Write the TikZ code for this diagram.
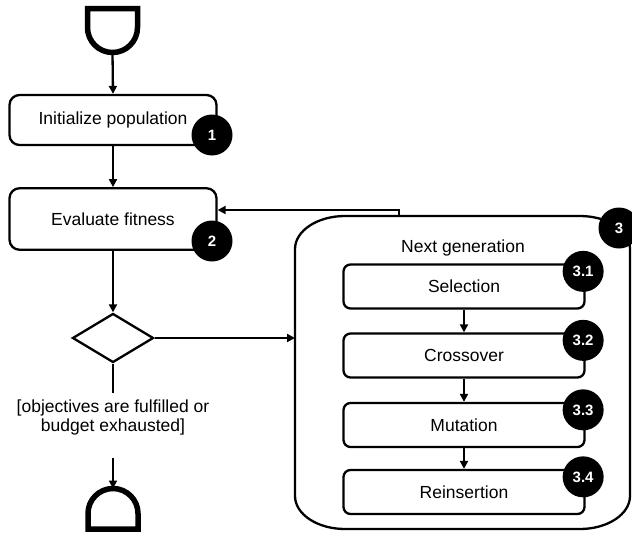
\documentclass[tikz,border=0pt]{standalone}
\usepackage{fontspec}
\setmainfont{Liberation Sans}
\usetikzlibrary{arrows.meta,shapes.geometric,calc}
\begin{document}
\begin{tikzpicture}[x=1pt,y=1pt,
  txt/.style={font=\fontsize{17.5}{19.5}\selectfont},
  box/.style={draw,line width=2.3pt,rounded corners=10pt,minimum width=207pt,inner sep=0pt,txt},
  ibox/.style={draw,line width=2.3pt,rounded corners=7pt,minimum width=241pt,minimum height=44pt,inner sep=0pt,txt},
  badge/.style={circle,fill=black,text=white,minimum size=41pt,inner sep=0pt,font=\fontsize{15}{16}\selectfont\bfseries},
  conn/.style={line width=2.3pt,-{Triangle[length=8pt,width=8pt]}},
  plain/.style={line width=2.3pt},
  term/.style={line width=5.5pt},
  holder/.style={inner sep=0pt,outer sep=0pt},
]
\useasboundingbox (0,0) rectangle (632,-538);

% start terminator
\node[holder,minimum width=50pt,minimum height=44pt] (start) at (112.5,-30.5) {};
\draw[term] (87.5,-8.5) -- (137.5,-8.5) -- (137.5,-27.5) arc[start angle=0,end angle=-180,radius=25] -- cycle;

% main boxes
\node[box,minimum height=50pt] (init) at (113,-120) {Initialize population};
\node[box,minimum height=61.5pt] (eval) at (113,-219) {Evaluate fitness};
\node[badge] (b1) at (212,-135) {1};
\node[badge] (b2) at (212,-241) {2};

% decision
\node[draw,diamond,line width=2.3pt,minimum width=81pt,minimum height=49pt,inner sep=0pt] (dec) at (113,-338) {};
\node[txt,align=center] (guard) at (113,-417.5) {[objectives are fulfilled or\\budget exhausted]};
\coordinate (g1) at (113,-393);
\coordinate (g2) at (113,-458);

% end terminator
\node[holder,minimum width=50pt,minimum height=41pt] (endt) at (113,-509) {};
\draw[term] (88,-529) -- (88,-513.5) arc[start angle=180,end angle=0,radius=25] -- (138,-529) -- cycle;

% container
\node[holder,minimum width=335pt,minimum height=313pt] (gen) at (462.5,-372.5) {};
\draw[plain] (345,-216) -- (580,-216)
  arc[start angle=90,end angle=0,x radius=50,y radius=33] -- (630,-496)
  arc[start angle=0,end angle=-90,x radius=50,y radius=33] -- (345,-529)
  arc[start angle=270,end angle=180,x radius=50,y radius=33] -- (295,-249)
  arc[start angle=180,end angle=90,x radius=50,y radius=33] -- cycle;
\node[badge] (b3) at (619,-228) {3};
\node[txt] (ng) at (463,-248) {Next generation};

\node[ibox] (sel) at (464,-286.5) {Selection};
\node[ibox] (cro) at (464,-355.5) {Crossover};
\node[ibox] (mut) at (464,-425) {Mutation};
\node[ibox] (rei) at (464,-492) {Reinsertion};
\node[badge] (b31) at ($(sel.north east)+(-2.5,-8)$) {3.1};
\node[badge] (b32) at ($(cro.north east)+(-2.5,-8)$) {3.2};
\node[badge] (b33) at ($(mut.north east)+(-2.5,-8)$) {3.3};
\node[badge] (b34) at ($(rei.north east)+(-2.5,-8)$) {3.4};

% connectors
\draw[conn] (start.south) -- (init.north);
\draw[conn] (init.south) -- (eval.north);
\draw[conn] (eval.south) -- (dec.north);
\draw[conn] (dec.east) -- (dec.east -| gen.west);
\draw[plain] (dec.south) -- (g1);
\draw[conn] (g2) -- (endt.north);
\coordinate (fb) at (399,-216);
\coordinate (fb2) at (399,-210);
\draw[conn] (fb) -- (fb2) -- (fb2 -| eval.east);
\draw[conn] (sel.south) -- (cro.north);
\draw[conn] (cro.south) -- (mut.north);
\draw[conn] (mut.south) -- (rei.north);
\end{tikzpicture}
\end{document}
